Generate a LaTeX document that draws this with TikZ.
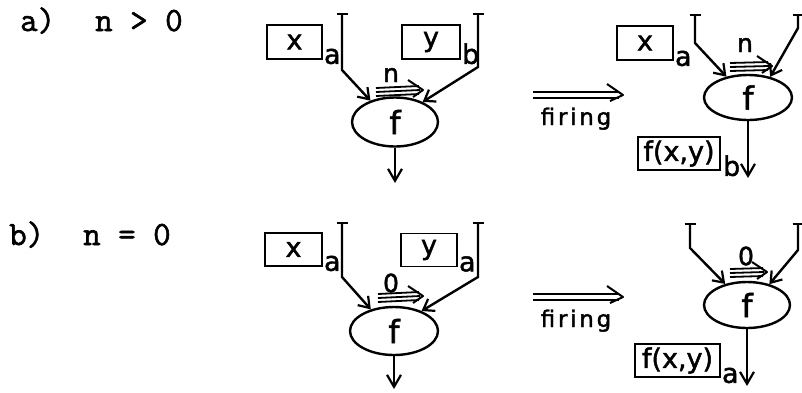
\documentclass[tikz,border=0pt]{standalone}
\usepackage{fontspec}
\setmainfont{DejaVu Sans}[FakeBold=1.6]
\setmonofont{Latin Modern Mono}[FakeBold=1.8]
\newfontfamily\spaced{DejaVu Sans}[LetterSpace=12,FakeBold=1.6]
\usetikzlibrary{shapes.geometric,arrows.meta}
\newcommand\tokarrow[2]{%
  \draw[line width=1.8pt] ([yshift=4pt]#1) -- ([xshift=-4pt,yshift=4pt]#2);
  \draw[line width=1.8pt] (#1) -- ([xshift=-3pt]#2);
  \draw[line width=1.8pt] ([yshift=-4pt]#1) -- ([xshift=-4pt,yshift=-4pt]#2);
  \draw[line width=2pt,line join=round] ([xshift=-15pt,yshift=10pt]#2) -- (#2) -- ([xshift=-10pt,yshift=-7pt]#2);}
\newcommand\firearrow[2]{%
  \draw[line width=1.8pt] ([yshift=3pt]#1) -- ([xshift=-4pt,yshift=3pt]#2);
  \draw[line width=1.8pt] ([yshift=-3pt]#1) -- ([xshift=-4pt,yshift=-3pt]#2);
  \draw[line width=2pt,line join=round] ([xshift=-16pt,yshift=11pt]#2) -- (#2) -- ([xshift=-13pt,yshift=-6pt]#2);}
\begin{document}
\begin{tikzpicture}[x=1pt,y=-1pt,
  ln/.style={line width=2.4pt},
  inarr/.style={ln,{Bar[width=11pt,line width=2.4pt]}-{Straight Barb[length=10pt,width=14pt,line width=2.2pt]}},
  outarr/.style={ln,-{Straight Barb[length=12pt,width=14pt,line width=2.2pt]}},
  val/.style={draw,line width=1.7pt,rectangle,inner sep=0pt,minimum height=34pt,font=\fontsize{27}{27}\selectfont},
  op/.style={draw,ellipse,line width=2.4pt,inner sep=0pt,font=\fontsize{32}{32}\selectfont},
  sub/.style={anchor=base west,inner sep=0pt,font=\fontsize{27}{27}\selectfont},
  lab/.style={font=\fontsize{25}{25}\selectfont,inner sep=0pt},
  caption/.style={font=\ttfamily\fontsize{34}{34}\selectfont,anchor=base west,inner sep=0pt},
  fire/.style={font=\spaced\fontsize{23}{23}\selectfont,anchor=base,inner sep=0pt}
]
\useasboundingbox (0,0) rectangle (802,392);

% captions
\node[caption] (capa) at (20,31) {a)};
\node[caption] (conda) at (95,31) {n > 0};
\node[caption] (capb) at (9,245) {b)};
\node[caption] (condb) at (83,245) {n = 0};

% ---------- a) before ----------
\node[val,minimum width=55pt] (x1) at (294.5,42) {x};
\node[val,minimum width=58pt] (y1) at (431,42) {y};
\node[sub] (x1s) at ([xshift=1pt,yshift=-4pt]x1.south east) {a};
\node[sub] (y1s) at ([xshift=1pt,yshift=-4pt]y1.south east) {b};
\node[op,minimum width=86pt,minimum height=49pt] (f1) at (395,122) {f};
\coordinate (t1l) at (342,13); \coordinate (b1l) at (342,70);
\coordinate (t1r) at (478,13); \coordinate (b1r) at (478,67);
\coordinate (o1) at (395,183);
\draw[inarr] (t1l) -- (b1l) -- (f1.139);
\draw[inarr] (t1r) -- (b1r) -- (f1.36);
\draw[outarr] (f1) -- (o1);
\coordinate (k1s) at (376,92); \coordinate (k1e) at (423,90);
\tokarrow{k1s}{k1e}
\node[lab] (n1) at (391,75) {n};

% firing a
\coordinate (fa1) at (533,95); \coordinate (fa2) at (623,95);
\firearrow{fa1}{fa2}
\node[fire] (fta) at (576,125) {firing};

% ---------- a) after ----------
\node[val,minimum width=56pt] (x2) at (645,43) {x};
\node[sub] (x2s) at ([xshift=1pt,yshift=-5pt]x2.south east) {a};
\node[op,minimum width=88pt,minimum height=45pt] (f2) at (748,97.5) {f};
\coordinate (t2l) at (695,14); \coordinate (b2l) at (695,43);
\coordinate (t2r) at (798,14); \coordinate (b2r) at (798,28);
\coordinate (o2) at (748,178);
\draw[inarr] (t2l) -- (b2l) -- (f2.136);
\draw[inarr] (t2r) -- (b2r) -- (f2.43);
\draw[outarr] (f2) -- (o2);
\coordinate (k2s) at (730,67); \coordinate (k2e) at (772,66);
\tokarrow{k2s}{k2e}
\node[lab] (n2) at (745,45) {n};
\node[val,minimum width=82pt,minimum height=33pt] (r2) at (679,153.5) {f(x,y)};
\node[sub] (r2s) at ([xshift=2pt,yshift=-5pt]r2.south east) {b};

% ---------- b) before ----------
\node[val,minimum width=57pt,minimum height=33pt] (x3) at (293.5,249.5) {x};
\node[val,minimum width=56pt,minimum height=33pt] (y3) at (429,250) {y};
\node[sub] (x3s) at ([xshift=1pt,yshift=-4pt]x3.south east) {a};
\node[sub] (y3s) at ([xshift=1pt,yshift=-4pt]y3.south east) {a};
\node[op,minimum width=88pt,minimum height=48pt] (f3) at (394,331) {f};
\coordinate (t3l) at (342,222); \coordinate (b3l) at (342,277);
\coordinate (t3r) at (478,222); \coordinate (b3r) at (478,277);
\coordinate (o3) at (394,389);
\draw[inarr] (t3l) -- (b3l) -- (f3.137);
\draw[inarr] (t3r) -- (b3r) -- (f3.36);
\draw[outarr] (f3) -- (o3);
\coordinate (k3s) at (378,298); \coordinate (k3e) at (423,296);
\tokarrow{k3s}{k3e}
\node[lab] (n3) at (391,283) {0};

% firing b
\coordinate (fb1) at (533,297); \coordinate (fb2) at (623,297);
\firearrow{fb1}{fb2}
\node[fire] (ftb) at (576,327) {firing};

% ---------- b) after ----------
\node[op,minimum width=86pt,minimum height=46pt] (f4) at (747,305) {f};
\coordinate (t4l) at (690,223); \coordinate (b4l) at (690,248);
\coordinate (t4r) at (798,223); \coordinate (b4r) at (798,250);
\coordinate (o4) at (747,386);
\draw[inarr] (t4l) -- (b4l) -- (f4.136);
\draw[inarr] (t4r) -- (b4r) -- (f4.43);
\draw[outarr] (f4) -- (o4);
\coordinate (k4s) at (730,273); \coordinate (k4e) at (767,272);
\tokarrow{k4s}{k4e}
\node[lab] (n4) at (746,256) {0};
\node[val,minimum width=85pt,minimum height=33pt] (r4) at (677.5,360.5) {f(x,y)};
\node[sub] (r4s) at ([xshift=1pt,yshift=-5pt]r4.south east) {a};
\end{tikzpicture}
\end{document}
